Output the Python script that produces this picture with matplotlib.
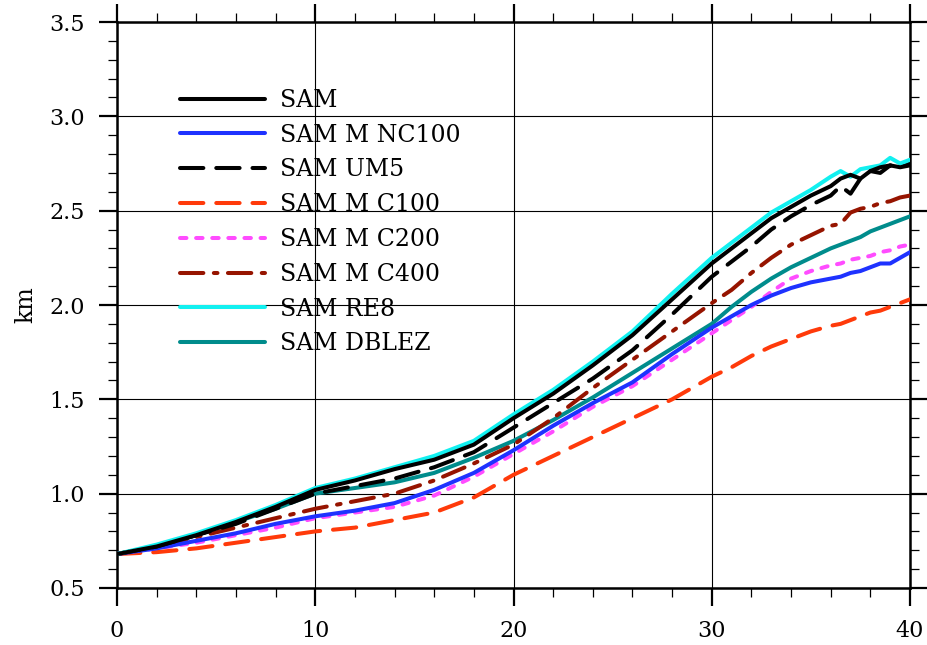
import matplotlib
matplotlib.use("Agg")
import matplotlib.pyplot as plt
from matplotlib.ticker import MultipleLocator

plt.rcParams['font.family'] = ['DejaVu Serif']

days = [0, 2, 4, 6, 8, 10, 12, 14, 16, 18, 20, 22, 24, 26, 28, 30,
        31, 32, 33, 34, 35, 36, 36.5, 37, 37.5, 38, 38.5, 39, 39.5, 40]

sam = [.68, .72, .78, .85, .93, 1.02, 1.07, 1.13, 1.18, 1.26, 1.40, 1.53, 1.68, 1.84, 2.03, 2.22,
       2.30, 2.38, 2.46, 2.52, 2.58, 2.63, 2.67, 2.69, 2.67, 2.71, 2.73, 2.74, 2.73, 2.74]
sam_m_nc100 = [.68, .71, .75, .79, .84, .88, .91, .95, 1.02, 1.11, 1.23, 1.36, 1.48, 1.59, 1.74, 1.88,
               1.94, 2.00, 2.05, 2.09, 2.12, 2.14, 2.15, 2.17, 2.18, 2.20, 2.22, 2.22, 2.25, 2.28]
sam_um5 = [.68, .72, .78, .84, .92, 1.00, 1.04, 1.08, 1.14, 1.22, 1.35, 1.48, 1.61, 1.76, 1.95, 2.15,
           2.23, 2.31, 2.40, 2.47, 2.53, 2.58, 2.63, 2.59, 2.67, 2.71, 2.70, 2.74, 2.73, 2.75]
sam_m_c100 = [.68, .69, .71, .74, .77, .80, .82, .86, .90, .98, 1.10, 1.20, 1.30, 1.40, 1.50, 1.62,
              1.67, 1.73, 1.78, 1.82, 1.86, 1.89, 1.90, 1.92, 1.94, 1.96, 1.97, 1.99, 2.01, 2.03]
sam_m_c200 = [.68, .71, .74, .78, .82, .87, .90, .93, .99, 1.09, 1.21, 1.33, 1.46, 1.57, 1.71, 1.85,
              1.92, 1.99, 2.07, 2.14, 2.18, 2.21, 2.22, 2.24, 2.25, 2.26, 2.28, 2.29, 2.31, 2.32]
sam_m_c400 = [.68, .72, .77, .82, .87, .92, .96, 1.00, 1.07, 1.16, 1.26, 1.40, 1.56, 1.71, 1.86, 2.01,
              2.08, 2.17, 2.25, 2.32, 2.37, 2.42, 2.43, 2.49, 2.51, 2.52, 2.54, 2.55, 2.57, 2.58]
sam_re8 = [.68, .73, .79, .86, .94, 1.03, 1.08, 1.14, 1.20, 1.28, 1.42, 1.55, 1.70, 1.86, 2.06, 2.25,
           2.33, 2.41, 2.49, 2.55, 2.61, 2.68, 2.71, 2.68, 2.72, 2.73, 2.74, 2.78, 2.75, 2.77]
sam_dblez = [.68, .72, .78, .85, .92, 1.00, 1.03, 1.06, 1.11, 1.19, 1.28, 1.39, 1.51, 1.64, 1.77, 1.90,
             1.99, 2.07, 2.14, 2.20, 2.25, 2.30, 2.32, 2.34, 2.36, 2.39, 2.41, 2.43, 2.45, 2.47]

labels = ["SAM", "SAM M NC100", "SAM UM5", "SAM M C100",
          "SAM M C200", "SAM M C400", "SAM RE8", "SAM DBLEZ"]
series = [sam, sam_m_nc100, sam_um5, sam_m_c100, sam_m_c200, sam_m_c400, sam_re8, sam_dblez]
colors = ["black", "#1e32ff", "black", "#ff3a0a", "#ff4cff", "#961400", "#12f0f0", "#008c8c"]
styles = ["-", "-", (0, (5.8, 3.2)), (0, (5.8, 3.2)), (0, (1.6, 2.4)),
          (0, (5.8, 2.6, 0.9, 2.6)), "-", "-"]

fig = plt.figure(figsize=(9.28, 6.45), dpi=100)
ax = fig.add_axes([117/928, 57/645, 793/928, 566/645])

# draw in reverse so SAM sits on top like the original
order = [7, 5, 4, 3, 1, 2, 6, 0]
handles = {}
for i in order:
    ln, = ax.plot(days, series[i], color=colors[i], linestyle=styles[i], lw=2.9,
                  dash_capstyle='round', solid_capstyle='round', label=labels[i], zorder=3)
    handles[i] = ln

ax.set_xlim(0, 40)
ax.set_ylim(0.5, 3.5)
ax.xaxis.set_major_locator(MultipleLocator(10))
ax.xaxis.set_minor_locator(MultipleLocator(2))
ax.yaxis.set_major_locator(MultipleLocator(0.5))
ax.yaxis.set_minor_locator(MultipleLocator(0.1))
ax.yaxis.set_major_formatter(plt.FuncFormatter(lambda v, p: f"{v:.1f}"))

ax.grid(True, which='major', color='black', lw=0.8)
ax.set_axisbelow(True)
for s in ax.spines.values():
    s.set_linewidth(1.8)

ax.tick_params(which='both', direction='out', top=True, right=True,
               labeltop=False, labelright=False, labelsize=16, pad=10)
ax.tick_params(which='major', length=13, width=1.6)
ax.tick_params(which='minor', length=6.5, width=0.9)

ax.set_ylabel("km", fontsize=17, labelpad=9)

leg = ax.legend([handles[i] for i in range(8)], labels, loc='upper left',
                bbox_to_anchor=(0.079, 0.882), frameon=False, fontsize=17,
                handlelength=3.6, handletextpad=0.65, labelspacing=0.5,
                borderpad=0, borderaxespad=0)

fig.savefig("out.png", dpi=100)
